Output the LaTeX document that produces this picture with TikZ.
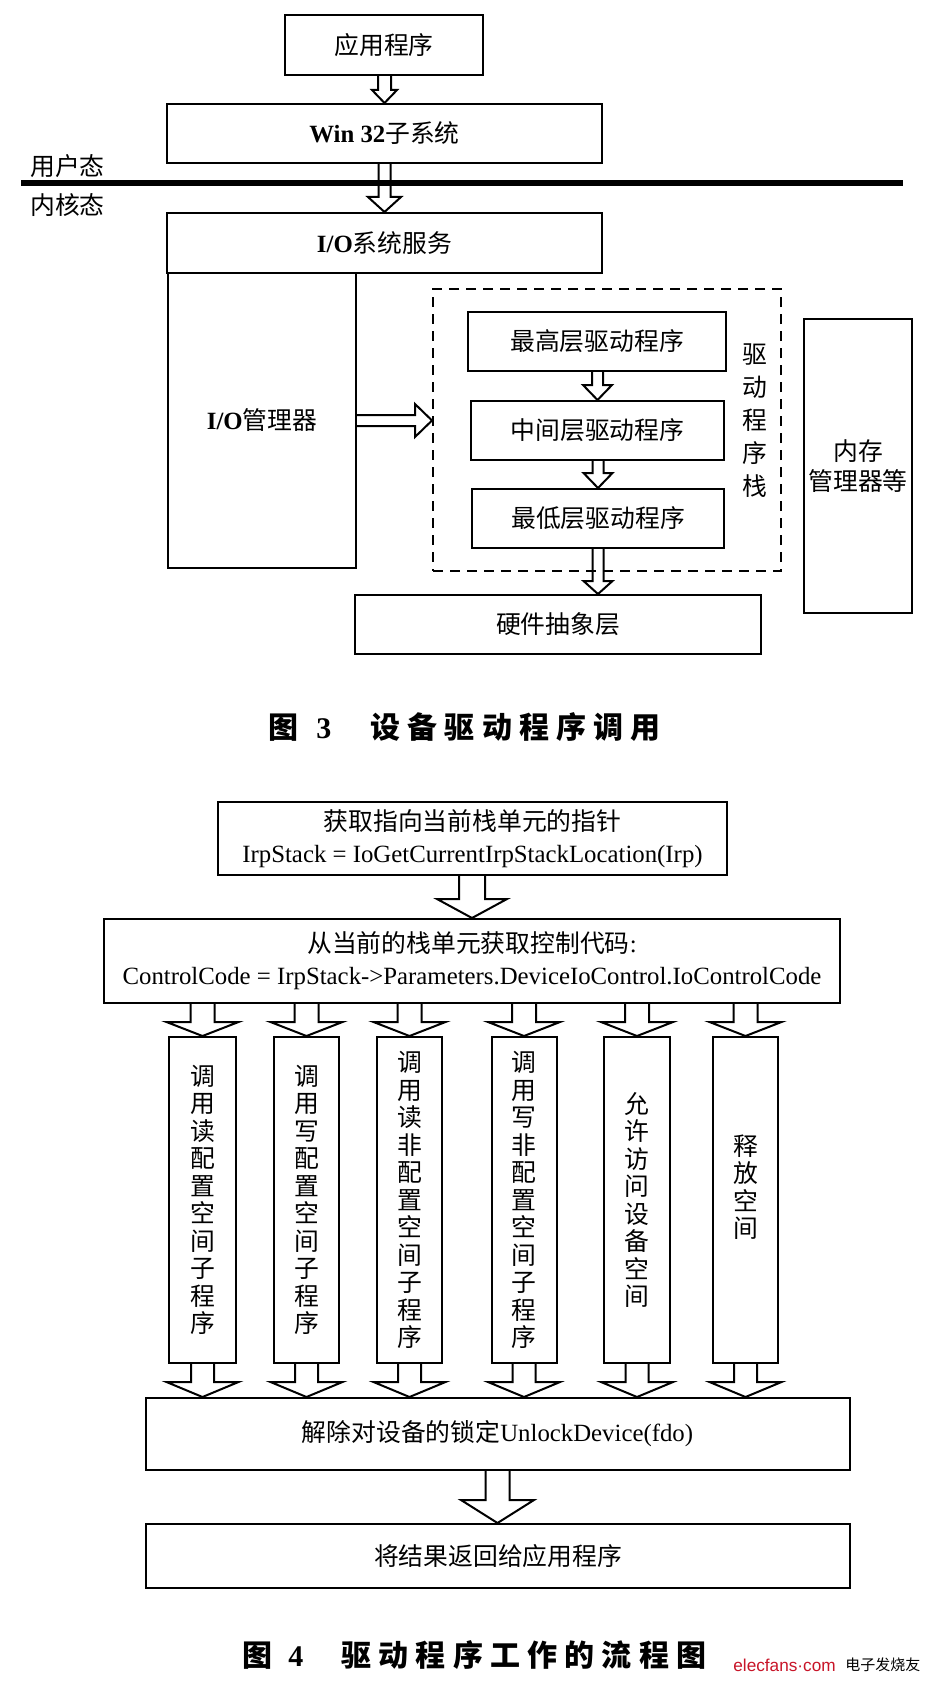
\documentclass[tikz,border=0pt]{standalone}
\usepackage{fontspec}
\setmainfont{Liberation Serif}
\newfontfamily\cjk{Noto Sans CJK SC}
\newfontfamily\capfont[LetterSpace=24]{Noto Sans CJK SC}
\newfontfamily\wmfont{Liberation Sans}
\usetikzlibrary{calc}
\definecolor{wmred}{RGB}{200,20,40}
\newcommand\bxfont{\cjk\fontsize{12.4}{16}\selectfont}
\newcommand\colfont{\cjk\fontsize{12.4}{13.75}\selectfont}
% hollow block arrow pointing down: #1 start, #2 tip (x taken from tip), #3 shaft half width, #4 head half width, #5 head length
\newcommand\darr[5]{\draw[blkarrow] let \p1=(#1), \p2=(#2) in (\x2-#3,\y1) -- (\x2-#3,\y2+#5) -- (\x2-#4,\y2+#5) -- (\x2,\y2) -- (\x2+#4,\y2+#5) -- (\x2+#3,\y2+#5) -- (\x2+#3,\y1);}
% hollow block arrow pointing right (y taken from tip)
\newcommand\rarr[5]{\draw[blkarrow] let \p1=(#1), \p2=(#2) in (\x1,\y2+#3) -- (\x2-#5,\y2+#3) -- (\x2-#5,\y2+#4) -- (\x2,\y2) -- (\x2-#5,\y2-#4) -- (\x2-#5,\y2-#3) -- (\x1,\y2-#3);}
\tikzset{
  box/.style={draw, line width=1pt, inner sep=0pt, align=center, font=\bxfont},
  colbox/.style={draw, line width=1pt, inner sep=0pt, align=center, font=\colfont},
  stackbox/.style={draw, line width=1pt, dash pattern=on 5pt off 3.5pt, inner sep=0pt},
  blkarrow/.style={line width=1pt, line join=miter},
  plain/.style={inner sep=0pt, font=\bxfont},
  captext/.style={inner sep=0pt, anchor=west, font=\capfont\bfseries\fontsize{15}{18}\selectfont},
}
\begin{document}
\begin{tikzpicture}[x=0.5pt,y=-0.5pt]
\fill[white] (0,0) rectangle (936,1685);
\useasboundingbox (0,0) rectangle (936,1685);

% ---------------- Figure 3 ----------------
\node[box, minimum width=99pt, minimum height=30pt] (app) at (384,45) {应用程序};
\node[box, minimum width=217.5pt, minimum height=29.5pt] (win) at (384.5,133.5) {{\rmfamily\bfseries Win 32}子系统};
\node[box, minimum width=217.5pt, minimum height=30pt] (ios) at (384.5,243) {{\rmfamily\bfseries I/O}系统服务};
\node[box, minimum width=94pt, minimum height=147.5pt] (iom) at (262,420.5) {{\rmfamily\bfseries I/O}管理器};
\node[stackbox, minimum width=174pt, minimum height=141pt] (stack) at (607,430) {};
\node[box, minimum width=129pt, minimum height=29.5pt] (d1) at (597,341.5) {最高层驱动程序};
\node[box, minimum width=126.5pt, minimum height=29.5pt] (d2) at (597.5,430.5) {中间层驱动程序};
\node[box, minimum width=126pt, minimum height=29.5pt] (d3) at (598,518.5) {最低层驱动程序};
\node[box, minimum width=203pt, minimum height=29.5pt] (hal) at (558,624.5) {硬件抽象层};
\node[box, minimum width=54pt, minimum height=147pt, font=\cjk\fontsize{12.4}{15}\selectfont] (mem) at (858,466) {内存\\管理器等};
\node[plain, align=center, font=\cjk\fontsize{12.4}{16.5}\selectfont] (stlab) at (755,421) {驱\\动\\程\\序\\栈};

\coordinate (sepL) at (21,183);
\coordinate (sepR) at (903,183);
\draw[line width=2.6pt] (sepL) -- (sepR);
\node[plain, anchor=west] (user) at (30,166) {用户态};
\node[plain, anchor=west] (kern) at (30,205) {内核态};

\darr{app.south}{win.north}{3.25pt}{6.25pt}{6.5pt}
\darr{win.south}{ios.north}{3pt}{8.25pt}{7.5pt}
\darr{d1.south}{d2.north}{2.75pt}{7.25pt}{7.5pt}
\darr{d2.south}{d3.north}{2.75pt}{7.25pt}{7.5pt}
\darr{d3.south}{d3.south |- hal.north}{2.75pt}{7.25pt}{6.5pt}
\rarr{iom.east}{iom.east -| stack.west}{2.75pt}{8.25pt}{8.5pt}

\node[captext] (cap3) at (268,727) {图\hspace{9pt}{\rmfamily 3}\hspace{19.5pt}设备驱动程序调用};

% ---------------- Figure 4 ----------------
\node[box, minimum width=254.5pt, minimum height=36.5pt] (get) at (472.5,838.5) {获取指向当前栈单元的指针\\{\rmfamily IrpStack = IoGetCurrentIrpStackLocation(Irp)}};
\node[box, minimum width=368pt, minimum height=42pt] (cc) at (472,961) {从当前的栈单元获取控制代码{\rmfamily :}\\{\rmfamily ControlCode = IrpStack->Parameters.DeviceIoControl.IoControlCode}};

\node[colbox, minimum width=33.5pt, minimum height=163pt] (c1) at (202.5,1200) {调\\用\\读\\配\\置\\空\\间\\子\\程\\序};
\node[colbox, minimum width=32.5pt, minimum height=163pt] (c2) at (306.5,1200) {调\\用\\写\\配\\置\\空\\间\\子\\程\\序};
\node[colbox, minimum width=32.5pt, minimum height=163pt] (c3) at (409.5,1200) {调\\用\\读\\非\\配\\置\\空\\间\\子\\程\\序};
\node[colbox, minimum width=32.5pt, minimum height=163pt] (c4) at (524,1200) {调\\用\\写\\非\\配\\置\\空\\间\\子\\程\\序};
\node[colbox, minimum width=33pt, minimum height=163pt] (c5) at (637,1200) {允\\许\\访\\问\\设\\备\\空\\间};
\node[colbox, minimum width=32.5pt, minimum height=163pt] (c6) at (745.5,1200) {释\\放\\空\\间\\{}};

\node[box, minimum width=352pt, minimum height=36pt] (unl) at (497.5,1434) {解除对设备的锁定{\rmfamily UnlockDevice(fdo)}};
\node[box, minimum width=352pt, minimum height=32pt] (ret) at (498,1556) {将结果返回给应用程序};

\darr{get.south}{cc.north}{6.5pt}{17.5pt}{9.5pt}
\foreach \c in {c1,c2,c3,c4,c5,c6}{
  \darr{\c.north |- cc.south}{\c.north}{6pt}{18pt}{7pt}
  \darr{\c.south}{\c.south |- unl.north}{5.75pt}{18pt}{7.5pt}
}
\darr{unl.south}{unl.south |- ret.north}{6pt}{18.25pt}{11.5pt}

\node[captext] (cap4) at (242,1655) {图\hspace{8pt}{\rmfamily 4}\hspace{19pt}驱动程序工作的流程图};

\node[inner sep=0pt, anchor=west, text=wmred, font=\wmfont\fontsize{8.6}{10}\selectfont] (wm) at (733,1665) {elecfans·com};
\node[inner sep=0pt, anchor=west, font=\cjk\fontsize{7.5}{9}\selectfont] (wm2) at (845,1665) {电子发烧友};
\end{tikzpicture}
\end{document}
